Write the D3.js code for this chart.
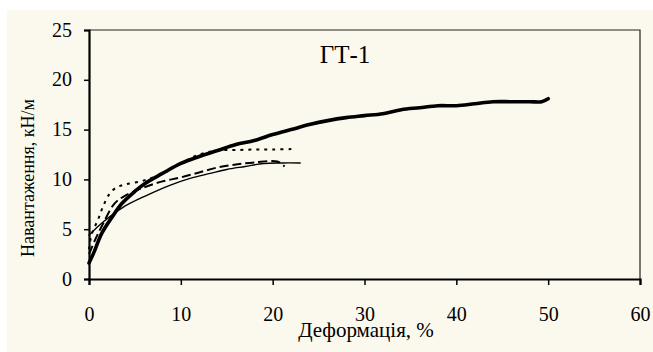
<!DOCTYPE html>
<html>
<head>
<meta charset="utf-8">
<script src="https://cdn.jsdelivr.net/npm/d3@7"></script>
<style>
  body { margin: 0; background: #fff; }
  svg text { font-family: "Liberation Serif", "Times New Roman", "DejaVu Serif", serif; }
</style>
</head>
<body>
<svg id="chart" width="653" height="352"></svg>
<script>
// deformation (%) vs load (kN/m)
const xTicks = [0, 10, 20, 30, 40, 50, 60];
const yTicks = [0, 5, 10, 15, 20, 25];

const thickX = [0, 0.5, 1.4, 2.5, 3.6, 5, 6.1, 8, 10, 12, 14, 16, 18, 20, 22, 24, 26, 28, 30, 32, 34, 36, 38, 40, 42, 44, 46, 48, 49.3, 50];
const thickY = [1.6, 2.6, 4.6, 6.2, 7.6, 8.8, 9.6, 10.6, 11.6, 12.3, 12.9, 13.5, 13.9, 14.5, 15, 15.5, 15.9, 16.2, 16.4, 16.6, 17, 17.2, 17.4, 17.4, 17.6, 17.8, 17.8, 17.8, 17.8, 18.1];

const dotX = [0, 0.3, 1, 1.5, 2.2, 3, 4, 6, 8, 10, 12, 14, 16, 18, 20, 22.3];
const dotY = [3.0, 4.5, 6.0, 7.2, 8.5, 9.2, 9.5, 9.9, 10.6, 11.6, 12.5, 12.9, 12.95, 13, 13, 13.05];

const dashX = [0, 0.7, 1.5, 2.8, 4, 6, 8, 10, 12, 14, 16, 18, 20.5, 21.3];
const dashY = [2.5, 4.0, 5.5, 7.6, 8.4, 9.2, 9.8, 10.2, 10.7, 11.2, 11.5, 11.7, 11.8, 11.3];

const thinX = [0, 1.5, 3.7, 6.3, 8.8, 11, 13.2, 15, 17, 19, 21, 23];
const thinY = [4.4, 5.7, 7.2, 8.4, 9.4, 10.1, 10.6, 11.0, 11.3, 11.6, 11.65, 11.65];

const series = [
  {x: dotX, y: dotY, width: 2, dash: '3,5'},
  {x: dashX, y: dashY, width: 2, dash: '9,4'},
  {x: thinX, y: thinY, width: 1.4, dash: null},
  {x: thickX, y: thickY, width: 3.6, dash: null}
];

const FONT = '"Liberation Serif", "Times New Roman", "DejaVu Serif", serif';
const svg = d3.select('#chart');
const margin = {left: 89, right: 13, top: 30, bottom: 73};
const W = 653, H = 352;

// cream panel behind everything
svg.append('rect')
  .attr('x', 7).attr('y', 10)
  .attr('width', W - 7).attr('height', H - 10)
  .attr('fill', '#fbf9ee');

const x = d3.scaleLinear().domain([0, 60]).range([margin.left, W - margin.right]);
const y = d3.scaleLinear().domain([0, 25]).range([H - margin.bottom, margin.top]);

// plot frame (top and right)
svg.append('path')
  .attr('d', `M${x(0)},${y(25)}H${x(60)}V${y(0)}`)
  .attr('fill', 'none')
  .attr('stroke', '#222')
  .attr('stroke-width', 1.2);

const xAxis = svg.append('g')
  .attr('transform', `translate(0,${y(0)})`)
  .call(d3.axisBottom(x).tickValues(xTicks).tickSize(6).tickPadding(22));
const yAxis = svg.append('g')
  .attr('transform', `translate(${x(0)},0)`)
  .call(d3.axisLeft(y).tickValues(yTicks).tickSize(5).tickPadding(12));

[xAxis, yAxis].forEach(a => {
  a.attr('font-family', FONT).attr('font-size', 20);
  a.select('.domain').attr('stroke', '#000').attr('stroke-width', 2.2);
  a.selectAll('.tick line').attr('stroke', '#000').attr('stroke-width', 1.5);
  a.selectAll('.tick text').attr('fill', '#000');
});
yAxis.selectAll('.tick text').attr('dy', '0.3em');

const line = d3.line()
  .x(d => x(d[0]))
  .y(d => y(d[1]))
  .curve(d3.curveCatmullRom);

series.forEach(s => {
  const pts = s.x.map((v, i) => [v, s.y[i]]);
  svg.append('path')
    .datum(pts)
    .attr('d', line)
    .attr('fill', 'none')
    .attr('stroke', '#000')
    .attr('stroke-width', s.width)
    .attr('stroke-linecap', s.dash ? 'butt' : 'round')
    .attr('stroke-linejoin', 'round')
    .attr('stroke-dasharray', s.dash);
});

svg.append('text')
  .attr('x', 345).attr('y', 63)
  .attr('text-anchor', 'middle')
  .attr('font-family', FONT)
  .attr('font-size', 25)
  .text('ГТ-1');

svg.append('text')
  .attr('x', 366).attr('y', 337)
  .attr('text-anchor', 'middle')
  .attr('font-family', FONT)
  .attr('font-size', 21)
  .text('Деформація, %');

svg.append('text')
  .attr('transform', 'translate(34,178) rotate(-90)')
  .attr('text-anchor', 'middle')
  .attr('font-family', FONT)
  .attr('font-size', 18)
  .text('Навантаження, кН/м');
</script>
</body>
</html>
